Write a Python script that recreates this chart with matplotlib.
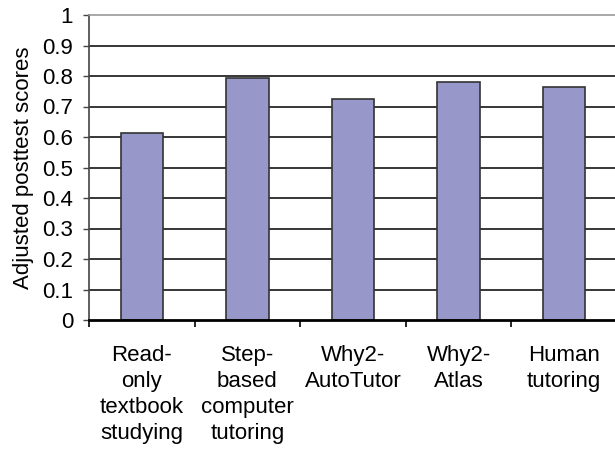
import matplotlib
matplotlib.use("Agg")
import matplotlib.pyplot as plt
import numpy as np

plt.rcParams['font.family'] = ['Liberation Sans', 'DejaVu Sans']

categories = ["Read-\nonly\ntextbook\nstudying",
              "Step-\nbased\ncomputer\ntutoring",
              "Why2-\nAutoTutor",
              "Why2-\nAtlas",
              "Human\ntutoring"]
scores = [0.612, 0.792, 0.725, 0.779, 0.765]
yticks = [0, 0.1, 0.2, 0.3, 0.4, 0.5, 0.6, 0.7, 0.8, 0.9, 1]
ytick_labels = ["0", "0.1", "0.2", "0.3", "0.4", "0.5", "0.6", "0.7", "0.8", "0.9", "1"]

fig = plt.figure(figsize=(6.15, 4.5), dpi=100)
ax = fig.add_axes([89/615, 130/450, 528/615, 305/450])

x = np.arange(len(categories))
ax.bar(x, scores, width=0.4, color="#9797c9", edgecolor="#333333",
       linewidth=1.2, zorder=3)

ax.set_xlim(-0.5, len(categories) - 0.5)
ax.set_ylim(0, 1)

# gridlines
for y in yticks[1:-1]:
    ax.axhline(y, color="black", linewidth=1.1, zorder=1)

ax.set_yticks(yticks)
ax.set_yticklabels(ytick_labels, fontsize=16)
ax.tick_params(axis="y", direction="out", length=4.5, width=1, pad=7,
               color="#444444")

# boundary ticks (major) + centred labels (minor)
ax.set_xticks(np.arange(-0.5, len(categories), 1.0))
ax.set_xticklabels([])
ax.tick_params(axis="x", which="major", direction="out", length=5, width=1.2)
ax.set_xticks(x, minor=True)
ax.set_xticklabels(categories, minor=True, fontsize=16, linespacing=1.32,
                   va="top", ha="center")
ax.tick_params(axis="x", which="minor", length=0, pad=18)

ax.spines["top"].set_color("#999999")
ax.spines["top"].set_linewidth(1.2)
ax.spines["right"].set_visible(False)
ax.spines["left"].set_color("#444444")
ax.spines["left"].set_linewidth(1.2)
ax.spines["bottom"].set_color("black")
ax.spines["bottom"].set_linewidth(2)
ax.spines["bottom"].set_zorder(4)

ax.set_ylabel("Adjusted posttest scores", fontsize=16, labelpad=6)

fig.savefig("out.png", dpi=100)
